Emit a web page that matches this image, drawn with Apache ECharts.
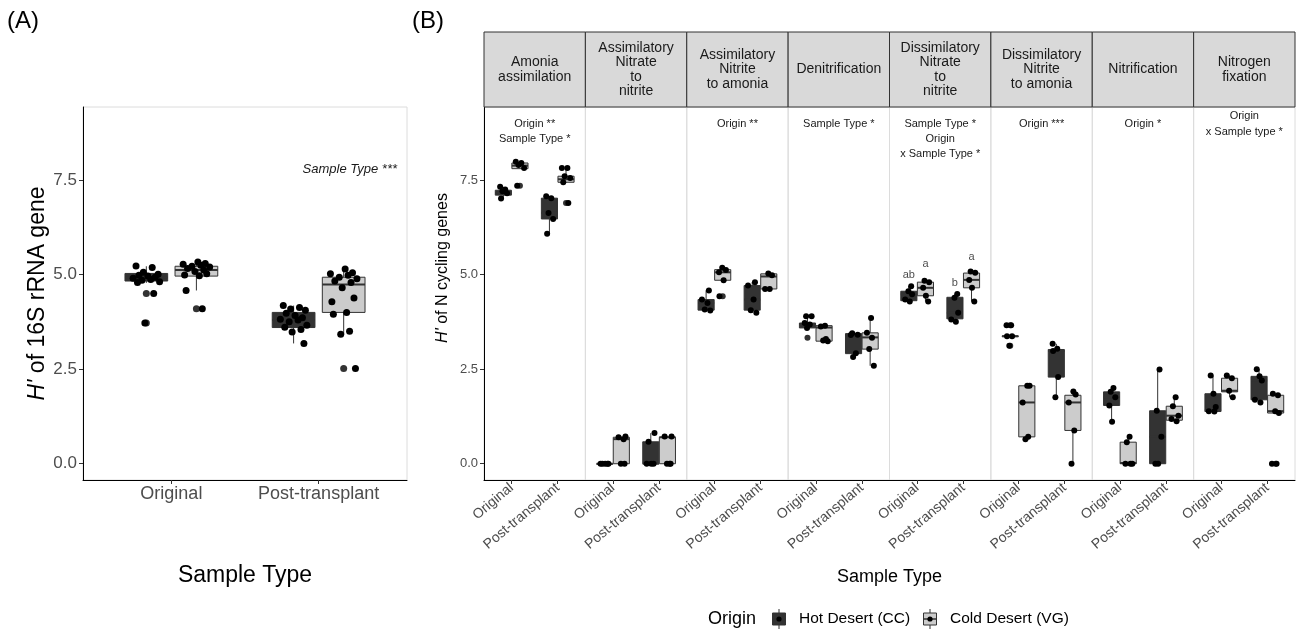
<!DOCTYPE html>
<html><head><meta charset="utf-8">
<script src="https://cdn.jsdelivr.net/npm/echarts@6/dist/echarts.min.js"></script>
<style>html,body{margin:0;padding:0;background:#fff}#c{width:1298px;height:633px}</style>
</head><body><div id="c"></div>
<script>
// ---------------- data ----------------
const categories = ['Original', 'Post-transplant'];
const origins = ['Hot Desert (CC)', 'Cold Desert (VG)'];
const yTicks = [0, 2.5, 5, 7.5];
const pathways = ['Amonia\nassimilation', 'Assimilatory\nNitrate\nto\nnitrite', 'Assimilatory\nNitrite\nto amonia', 'Denitrification',
  'Dissimilatory\nNitrate\nto\nnitrite', 'Dissimilatory\nNitrite\nto amonia', 'Nitrification', 'Nitrogen\nfixation'];
const pathwayNotes = [['Origin **', 'Sample Type *'], [], ['Origin **'], ['Sample Type *'],
  ['Sample Type *', 'Origin', 'x Sample Type *'], ['Origin ***'], ['Origin *'], ['Origin', 'x Sample type *']];
const rrnaNote = 'Sample Type ***';

// panel A: 16S rRNA  [low, q1, median, q3, high] per sample type
const rrnaHotBox = [[4.78, 4.83, 4.92, 5.03, 5.22], [3.18, 3.60, 3.80, 4.00, 4.18]];
const rrnaColdBox = [[4.58, 4.96, 5.12, 5.22, 5.32], [3.42, 4.00, 4.74, 4.93, 5.15]];
const rrnaHotPts = [[5.23, 5.19, 5.06, 5.01, 4.98, 4.96, 4.93, 4.90, 4.87, 4.85, 4.81, 4.79, 4.50, 3.72],
  [4.18, 4.13, 4.09, 4.06, 3.98, 3.92, 3.86, 3.82, 3.80, 3.75, 3.66, 3.61, 3.55, 3.48, 3.18]];
const rrnaColdPts = [[5.33, 5.29, 5.27, 5.25, 5.22, 5.20, 5.16, 5.12, 5.08, 5.02, 4.99, 4.97, 4.58, 4.10],
  [5.15, 5.05, 5.02, 4.98, 4.93, 4.89, 4.83, 4.79, 4.65, 4.38, 4.28, 4.00, 3.95, 3.50, 3.42, 2.52]];
const rrnaHotOut = [[4.50, 3.72], []];
const rrnaColdOut = [[4.10], [2.52]];

// panel B: N cycling genes, per pathway -> per sample type
const nHotBox = [
  [[7.01, 7.10, 7.16, 7.23, 7.32], [6.08, 6.47, 6.63, 7.02, 7.07]],
  [[0, 0, 0, 0, 0], [0, 0, 0, 0.58, 0.81]],
  [[4.05, 4.06, 4.25, 4.34, 4.58], [3.99, 4.06, 4.34, 4.71, 4.80]],
  [[3.59, 3.59, 3.68, 3.72, 3.90], [2.82, 2.91, 3.40, 3.44, 3.45]],
  [[4.29, 4.31, 4.48, 4.56, 4.69], [3.75, 3.83, 3.99, 4.40, 4.49]],
  [[3.37, 3.36, 3.37, 3.38, 3.37], [1.76, 2.29, 2.98, 3.02, 3.17]],
  [[1.11, 1.54, 1.76, 1.90, 2.00], [0, 0, 0.71, 1.40, 2.49]],
  [[1.38, 1.38, 1.42, 1.85, 2.33], [1.62, 1.69, 2.20, 2.31, 2.50]]
];
const nColdBox = [
  [[7.80, 7.80, 7.88, 7.95, 7.98], [7.44, 7.44, 7.52, 7.60, 7.82]],
  [[0, 0, 0.65, 0.70, 0.72], [0, 0, 0.70, 0.70, 0.72]],
  [[4.85, 4.85, 5.06, 5.13, 5.18], [4.62, 4.62, 4.95, 5.02, 5.03]],
  [[3.24, 3.24, 3.60, 3.65, 3.65], [2.59, 3.03, 3.34, 3.46, 3.85]],
  [[4.29, 4.44, 4.65, 4.80, 4.84], [4.29, 4.65, 4.86, 5.04, 5.08]],
  [[0.65, 0.71, 1.62, 2.06, 2.06], [0, 0.88, 1.62, 1.81, 1.91]],
  [[0, 0, 0.02, 0.57, 0.71], [1.12, 1.15, 1.27, 1.52, 1.76]],
  [[1.76, 1.90, 1.93, 2.26, 2.33], [1.34, 1.34, 1.39, 1.81, 1.85]]
];
const nHotPts = [
  [[7.32, 7.25, 7.20, 7.15, 7.01], [7.07, 7.02, 6.63, 6.47, 6.08]],
  [[0, 0, 0, 0, 0], [0.81, 0.58, 0, 0, 0]],
  [[4.58, 4.34, 4.25, 4.08, 4.05], [4.80, 4.71, 4.34, 4.06, 3.99]],
  [[3.90, 3.90, 3.72, 3.68, 3.59], [3.45, 3.41, 3.40, 2.92, 2.82]],
  [[4.69, 4.56, 4.48, 4.34, 4.29], [4.49, 4.39, 3.99, 3.81, 3.75]],
  [[3.66, 3.66, 3.37, 3.37, 3.12], [3.17, 3.04, 2.98, 2.29, 1.76]],
  [[2.00, 1.90, 1.76, 1.54, 1.11], [2.49, 1.40, 0.71, 0, 0]],
  [[2.33, 1.85, 1.50, 1.39, 1.38], [2.50, 2.31, 2.20, 1.69, 1.62]]
];
const nColdPts = [
  [[7.98, 7.95, 7.90, 7.82, 7.35], [7.82, 7.82, 7.60, 7.55, 7.44, 6.89]],
  [[0.72, 0.70, 0.65, 0, 0], [0.72, 0.72, 0, 0, 0]],
  [[5.18, 5.12, 5.06, 4.85, 4.43], [5.03, 4.98, 4.62, 4.62]],
  [[3.65, 3.63, 3.30, 3.26, 3.24], [3.85, 3.46, 3.33, 3.03, 2.59]],
  [[4.84, 4.80, 4.65, 4.44, 4.29], [5.08, 5.05, 4.86, 4.65, 4.29]],
  [[2.06, 2.06, 1.62, 0.71, 0.65], [1.91, 1.83, 1.62, 0.88, 0]],
  [[0.71, 0.57, 0, 0, 0], [1.76, 1.52, 1.27, 1.18, 1.12]],
  [[2.33, 2.26, 1.93, 1.76], [1.85, 1.81, 1.39, 1.34, 0, 0]]
];
const nHotOut = [[[], []], [[], []], [[], []], [[3.33], []], [[], []], [[3.66, 3.12], []], [[], []], [[], []]];
const nColdOut = [[[7.35], [6.89]], [[], []], [[4.43], []], [[], []], [[], []], [[], []], [[], []], [[], [0]]];

// compact-letter display for Dissimilatory Nitrate to nitrite (hot orig, cold orig, hot post, cold post)
const dnraLetters = ['ab', 'a', 'b', 'a'];
const dnraLetterY = [4.99, 5.28, 4.79, 5.47];

// ---------------- layout / style ----------------
const FONT = '"Liberation Sans", Arial, Helvetica, sans-serif';
const PLOT_TOP = 107, PLOT_H = 373;
const A_LEFT = 83, A_W = 324;
const B_LEFT = 484, B_W = (1295 - 484) / 8;
const STRIP_TOP = 32, STRIP_H = 75;
const Y_MIN = -0.43, Y_MAX = 9.43;
const HOT_FILL = '#333333', COLD_FILL = '#cccccc', EDGE = '#333333';
const jitter = [-0.07, 0.04, -0.02, 0.08, -0.05, 0.01, 0.06, -0.09, 0.03, -0.03, 0.09, -0.06, 0.05, -0.01, 0.07, -0.08, 0.02];

const grids = [], xAxes = [], yAxes = [], series = [], graphic = [];

function addPanel(left, width, showY, isA) {
  const gi = grids.length;
  grids.push({ left, top: PLOT_TOP, width, height: PLOT_H, show: true, borderColor: '#dcdcdc', borderWidth: 1, backgroundColor: 'transparent' });
  xAxes.push({
    gridIndex: gi, type: 'value', min: 0.4, max: 2.6,
    axisLine: { show: true, onZero: false, lineStyle: { color: '#000', width: 1 } },
    axisTick: { show: true, customValues: [1, 2], length: 4, lineStyle: { color: '#333' } },
    axisLabel: { show: true, customValues: [1, 2], formatter: v => categories[Math.round(v) - 1],
      rotate: isA ? 0 : 40, fontSize: isA ? 18 : 14, color: '#4d4d4d', fontFamily: FONT, margin: isA ? 5 : 6 },
    splitLine: { show: false }
  });
  yAxes.push({
    gridIndex: gi, type: 'value', min: Y_MIN, max: Y_MAX, show: showY,
    axisLine: { show: true, onZero: false, lineStyle: { color: '#000', width: 1 } },
    axisTick: { show: true, customValues: yTicks, length: 4, lineStyle: { color: '#333' } },
    axisLabel: { customValues: yTicks, formatter: v => v.toFixed(1), fontSize: isA ? 17 : 13, color: '#4d4d4d', margin: 6, fontFamily: FONT },
    splitLine: { show: false }
  });
  return gi;
}

function boxSeries(gi, boxes, offset, bw, fill) {
  return {
    type: 'custom', xAxisIndex: gi, yAxisIndex: gi, clip: false, z: 2, silent: true,
    data: boxes.map((b, i) => [i + 1 + offset, b[0], b[1], b[2], b[3], b[4]]),
    encode: { x: 0, y: [1, 2, 3, 4, 5] },
    renderItem: (params, api) => {
      const x = api.value(0);
      const lo = api.coord([x, api.value(1)]), q1 = api.coord([x, api.value(2)]);
      const md = api.coord([x, api.value(3)]), q3 = api.coord([x, api.value(4)]), hi = api.coord([x, api.value(5)]);
      const w = api.size([bw, 0])[0];
      return { type: 'group', children: [
        { type: 'line', shape: { x1: lo[0], y1: lo[1], x2: hi[0], y2: hi[1] }, style: { stroke: EDGE, lineWidth: 1 } },
        { type: 'rect', shape: { x: q1[0] - w / 2, y: q3[1], width: w, height: Math.max(q1[1] - q3[1], 0.5) }, style: { fill, stroke: EDGE, lineWidth: 1 } },
        { type: 'line', shape: { x1: md[0] - w / 2, y1: md[1], x2: md[0] + w / 2, y2: md[1] }, style: { stroke: EDGE, lineWidth: 2 } }
      ] };
    }
  };
}

function dotSeries(gi, pts, offset, seed, size, jit) {
  const data = [];
  pts.forEach((arr, i) => arr.forEach((v, k) => data.push([i + 1 + offset + (jit ? jitter[(k + seed) % jitter.length] : 0), v])));
  return { type: 'scatter', xAxisIndex: gi, yAxisIndex: gi, data, symbolSize: size, clip: false, silent: true,
    itemStyle: { color: jit ? '#000' : '#333', opacity: 1 }, z: jit ? 4 : 3 };
}

// Panel A
const gA = addPanel(A_LEFT, A_W, true, true);
series.push(boxSeries(gA, rrnaHotBox, -0.17, 0.29, HOT_FILL));
series.push(boxSeries(gA, rrnaColdBox, 0.17, 0.29, COLD_FILL));
series.push(dotSeries(gA, rrnaHotOut, -0.17, 0, 7, false));
series.push(dotSeries(gA, rrnaColdOut, 0.17, 0, 7, false));
series.push(dotSeries(gA, rrnaHotPts, -0.17, 0, 7, true));
series.push(dotSeries(gA, rrnaColdPts, 0.17, 5, 7, true));

// Panel B facets
pathways.forEach((name, p) => {
  const left = B_LEFT + p * B_W;
  const gi = addPanel(left, B_W, p === 0, false);
  series.push(boxSeries(gi, nHotBox[p], -0.18, 0.35, HOT_FILL));
  series.push(boxSeries(gi, nColdBox[p], 0.18, 0.35, COLD_FILL));
  series.push(dotSeries(gi, nHotOut[p], -0.18, 0, 6, false));
  series.push(dotSeries(gi, nColdOut[p], 0.18, 0, 6, false));
  series.push(dotSeries(gi, nHotPts[p], -0.18, p * 3, 6, true));
  series.push(dotSeries(gi, nColdPts[p], 0.18, p * 3 + 7, 6, true));
  // strip
  graphic.push({ type: 'rect', shape: { x: left, y: STRIP_TOP, width: B_W, height: STRIP_H },
    style: { fill: '#d9d9d9', stroke: '#333', lineWidth: 1 }, z: 10 });
  graphic.push({ type: 'text', x: left + B_W / 2, y: STRIP_TOP + STRIP_H / 2, z: 11,
    style: { text: name, font: '14px ' + FONT, fill: '#1a1a1a', align: 'center', verticalAlign: 'middle', lineHeight: 14.5 } });
  // significance notes
  const notes = pathwayNotes[p];
  if (notes.length) {
    const firstY = (p === 7) ? 116 : 124;
    const lh = (p === 7) ? 16 : 15;
    graphic.push({ type: 'text', x: left + B_W / 2, y: firstY - lh / 2, z: 11,
      style: { text: notes.join('\n'), font: '11px ' + FONT, fill: '#1a1a1a', align: 'center', verticalAlign: 'top', lineHeight: lh } });
  }
  if (p === 4) {
    const xs = [1 - 0.18, 1 + 0.18, 2 - 0.18, 2 + 0.18];
    series.push({ type: 'scatter', xAxisIndex: gi, yAxisIndex: gi, symbolSize: 1, silent: true, clip: false,
      itemStyle: { color: 'transparent' },
      data: dnraLetters.map((t, i) => [xs[i], dnraLetterY[i], t]),
      label: { show: true, position: 'inside', formatter: q => q.value[2], fontSize: 11, color: '#1a1a1a', fontFamily: FONT } });
  }
});

// Panel A note
graphic.push({ type: 'text', x: 397, y: 169, style: { text: rrnaNote, font: 'italic 13px ' + FONT, fill: '#1a1a1a', align: 'right', verticalAlign: 'middle' } });

// axis titles
graphic.push({ type: 'text', x: 38, y: 293.5, rotation: Math.PI / 2,
  style: { text: "{i|H'} of 16S rRNA gene", font: '23px ' + FONT, fill: '#000', align: 'center', verticalAlign: 'middle',
    rich: { i: { fontStyle: 'italic', fontSize: 23, fontFamily: FONT, fill: '#000' } } } });
graphic.push({ type: 'text', x: 245, y: 576, style: { text: 'Sample Type', font: '23px ' + FONT, fill: '#000', align: 'center', verticalAlign: 'middle' } });
graphic.push({ type: 'text', x: 443, y: 268, rotation: Math.PI / 2,
  style: { text: "{i|H'} of N cycling genes", font: '16px ' + FONT, fill: '#000', align: 'center', verticalAlign: 'middle',
    rich: { i: { fontStyle: 'italic', fontSize: 16, fontFamily: FONT, fill: '#000' } } } });
graphic.push({ type: 'text', x: 889.5, y: 577, style: { text: 'Sample Type', font: '18px ' + FONT, fill: '#000', align: 'center', verticalAlign: 'middle' } });

// panel tags
graphic.push({ type: 'text', x: 7, y: 21, style: { text: '(A)', font: '24px ' + FONT, fill: '#000', align: 'left', verticalAlign: 'middle' } });
graphic.push({ type: 'text', x: 412, y: 21, style: { text: '(B)', font: '24px ' + FONT, fill: '#000', align: 'left', verticalAlign: 'middle' } });

// legend
const LY = 619;
graphic.push({ type: 'text', x: 708, y: LY, style: { text: 'Origin', font: '18px ' + FONT, fill: '#000', align: 'left', verticalAlign: 'middle' } });
function legendKey(cx, fill, label) {
  graphic.push({ type: 'line', shape: { x1: cx, y1: LY - 10, x2: cx, y2: LY + 10 }, style: { stroke: EDGE, lineWidth: 1 } });
  graphic.push({ type: 'rect', shape: { x: cx - 6.5, y: LY - 6, width: 13, height: 12 }, style: { fill, stroke: EDGE, lineWidth: 1 } });
  graphic.push({ type: 'line', shape: { x1: cx - 6.5, y1: LY, x2: cx + 6.5, y2: LY }, style: { stroke: EDGE, lineWidth: 1.5 } });
  graphic.push({ type: 'circle', shape: { cx, cy: LY, r: 2.6 }, style: { fill: '#000' } });
  graphic.push({ type: 'text', x: cx + 20, y: LY, style: { text: label, font: '15.5px ' + FONT, fill: '#000', align: 'left', verticalAlign: 'middle' } });
}
legendKey(779, HOT_FILL, origins[0]);
legendKey(930, COLD_FILL, origins[1]);

const chart = echarts.init(document.getElementById('c'), null, { renderer: 'canvas' });
chart.setOption({
  backgroundColor: '#fff', animation: false,
  textStyle: { fontFamily: FONT },
  grid: grids, xAxis: xAxes, yAxis: yAxes, series, graphic
});
</script></body></html>
